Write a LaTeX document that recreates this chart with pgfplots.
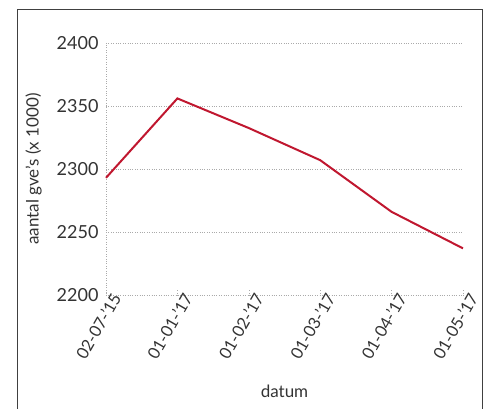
\documentclass[border=0pt]{standalone}
\usepackage{fontspec}
\setmainfont{Lato}
\usepackage{pgfplots}
\pgfplotsset{compat=1.18}
\definecolor{linered}{HTML}{C0172F}
\definecolor{txt}{HTML}{333333}
\definecolor{gridc}{HTML}{AAAAAA}
\begin{document}
\begin{tikzpicture}[x=1pt,y=1pt]
\useasboundingbox (0,0) rectangle (488,409);
\draw[line width=1pt, color=black!75] (17,-20) -- (17,399) -- (482,399) -- (482,-20);
\begin{axis}[
  at={(106pt,114pt)}, anchor=south west,
  scale only axis, width=357pt, height=252pt,
  xmin=0, xmax=5, ymin=2200, ymax=2400,
  ytick={2200,2250,2300,2350,2400},
  xtick={0,1,2,3,4,5},
  xticklabels={02-07-'15,01-01-'17,01-02-'17,01-03-'17,01-04-'17,01-05-'17},
  axis lines=left,
  axis line style={gridc, dotted, -},
  ymajorgrids,
  major grid style={gridc, dotted},
  major tick length=5pt,
  tick align=inside,
  ytick style={draw=none},
  xtick style={gridc, dotted},
  /pgf/number format/assume math mode=true,
  /pgf/number format/1000 sep={},
  yticklabel style={font=\fontsize{18}{20}\selectfont, text=txt, xshift=-4pt},
  xticklabel style={font=\fontsize{16.5}{18}\selectfont, text=txt, rotate=60, anchor=east, xshift=9pt, yshift=-9pt},
  xlabel={datum}, ylabel={aantal gve's (x 1000)},
  label style={font=\fontsize{17}{20}\selectfont, text=txt},
  xlabel style={yshift=-16pt},
  ylabel style={yshift=8pt},
  clip=false,
]
\addplot[linered, line width=2pt, mark=none] coordinates {
(0,2293) (1,2356) (2,2332.5) (3,2307) (4,2266) (5,2237)
};
\end{axis}
\end{tikzpicture}
\end{document}
